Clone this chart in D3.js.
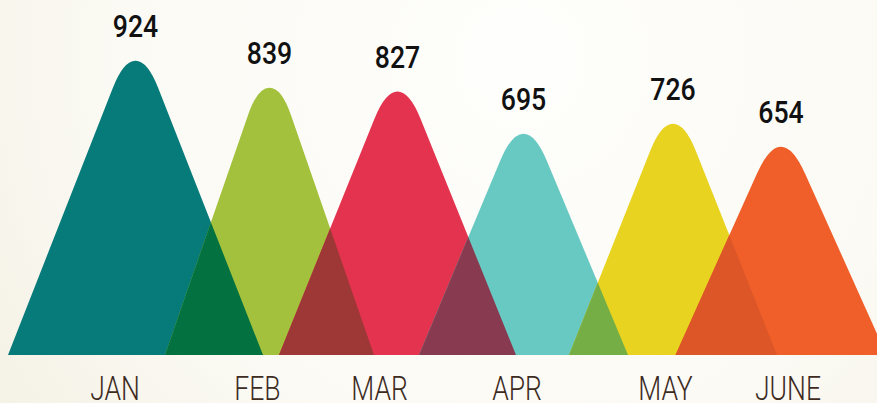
<!DOCTYPE html>
<html>
<head>
<meta charset="utf-8">
<script src="https://cdn.jsdelivr.net/npm/d3@7"></script>
<style>
  html, body { margin: 0; padding: 0; overflow: hidden; }
  svg { display: block; }
</style>
</head>
<body>
<div id="chart"></div>
<script>
// data
const months = ['JAN', 'FEB', 'MAR', 'APR', 'MAY', 'JUNE'];
const visits = [924, 839, 827, 695, 726, 654];

// styles
const fills = ['#077a7a', '#a3c13c', '#e3334f', '#68c8c2', '#e8d321', '#f05f2a'];
const overlapFills = [null, '#037240', '#9e3836', '#873a50', '#76ae46', '#dc5628'];

const width = 877, height = 403;
const baseY = 355;

let svg = d3.select('#chart')
    .append('svg')
    .attr('width', width)
    .attr('height', height);

// cream background, a bit whiter near the top
let defs = svg.append('defs');
let grad = defs.append('radialGradient')
    .attr('id', 'bg')
    .attr('gradientUnits', 'userSpaceOnUse')
    .attr('cx', 520).attr('cy', 60).attr('r', 720);
grad.append('stop').attr('offset', 0).attr('stop-color', '#fefefc');
grad.append('stop').attr('offset', 0.55).attr('stop-color', '#fbfaf4');
grad.append('stop').attr('offset', 1).attr('stop-color', '#f2eee0');
svg.append('rect')
    .attr('width', width).attr('height', height)
    .attr('fill', 'url(#bg)');

// scales
let yScale = d3.scaleLinear()
    .domain([0, 1000])
    .range([baseY, 36.5]);

// peak centres and base half widths of the hand laid out mountains
let peakX = d3.scaleOrdinal()
    .domain(months)
    .range([135.5, 269.5, 397.5, 523.5, 673, 781]);
let halfWidth = d3.scaleOrdinal()
    .domain(months)
    .range([127.5, 104.5, 118.5, 104.5, 104, 105.5]);
let labelX = d3.scaleOrdinal()
    .domain(months)
    .range([114.5, 257, 379, 516.5, 665, 787.5]);

const data = months.map((m, i) => ({month: m, value: visits[i], i: i}));

// triangle with a rounded top
function mountain(d) {
    const cx = peakX(d.month), hw = halfWidth(d.month);
    const top = yScale(d.value), bottom = yScale(0);
    const q = 12, s = 27;
    const sh = q + (hw - q) * s / (bottom - top);
    const p = d3.path();
    p.moveTo(cx - hw, bottom);
    p.lineTo(cx - sh, top + s);
    p.quadraticCurveTo(cx - q, top, cx, top);
    p.quadraticCurveTo(cx + q, top, cx + sh, top + s);
    p.lineTo(cx + hw, bottom);
    p.closePath();
    return p.toString();
}

defs.selectAll('clipPath')
    .data(data)
    .join('clipPath')
    .attr('id', d => 'clip-' + d.i)
    .append('path')
    .attr('d', mountain);

let shapes = svg.append('g');
shapes.selectAll('path.mtn')
    .data(data)
    .join('path')
    .attr('class', 'mtn')
    .attr('d', mountain)
    .attr('fill', d => fills[d.i]);

// overlap of each mountain with the one before it
shapes.selectAll('path.overlap')
    .data(data.filter(d => d.i > 0))
    .join('path')
    .attr('class', 'overlap')
    .attr('d', mountain)
    .attr('clip-path', d => 'url(#clip-' + (d.i - 1) + ')')
    .attr('fill', d => overlapFills[d.i]);

// value labels
svg.append('g')
    .selectAll('text')
    .data(data)
    .join('text')
    .attr('transform', d => 'translate(' + peakX(d.month) + ',' + (yScale(d.value) - 24) + ') scale(0.86,1)')
    .attr('text-anchor', 'middle')
    .style('font-family', 'Roboto, sans-serif')
    .style('font-weight', 500)
    .style('font-size', '31px')
    .attr('fill', '#111')
    .text(d => d.value);

// month axis
let xAxis = d3.axisBottom(labelX).tickSize(0).tickPadding(0);
let axisGroup = svg.append('g')
    .attr('transform', 'translate(0,' + baseY + ')')
    .call(xAxis);
axisGroup.select('.domain').remove();
axisGroup.selectAll('.tick text')
    .attr('y', 0)
    .attr('dy', 0)
    .attr('transform', 'translate(0,44.5) scale(0.78,1)')
    .attr('fill', '#3d2b1f')
    .style('font-family', 'Roboto, sans-serif')
    .style('font-weight', 300)
    .style('font-size', '34px');
</script>
</body>
</html>
